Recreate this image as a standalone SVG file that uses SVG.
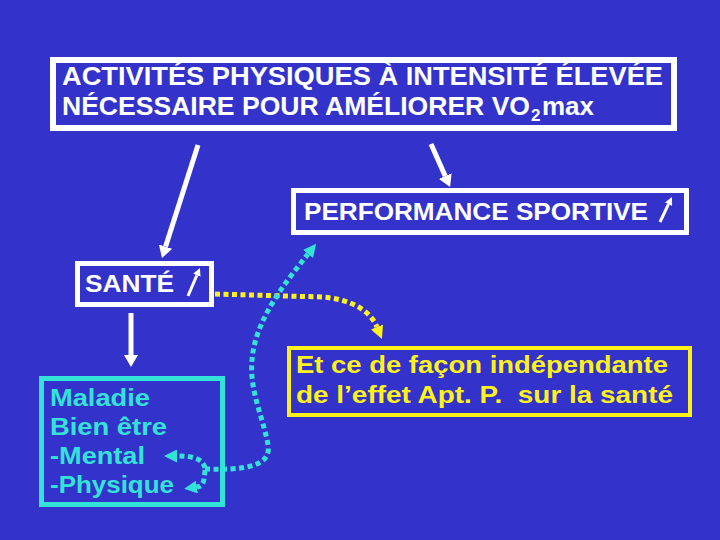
<svg xmlns="http://www.w3.org/2000/svg" width="720" height="540" viewBox="0 0 720 540">
<style>
.t{font-family:"Liberation Sans",Arial,sans-serif;font-weight:bold}
.w{fill:#FFFFFF}
.c{fill:#33E3D8}
.y{fill:#FFF21A}
.box{fill:none}
.wl{stroke:#FFFFFF;fill:none;stroke-linecap:butt}
.dc{stroke:#33E3D8;fill:none;stroke-width:5;stroke-dasharray:5 3.5}
.dy{stroke:#FFF21A;fill:none;stroke-width:5;stroke-dasharray:5 3.5}
</style>
<defs>
<marker id="hw" markerUnits="userSpaceOnUse" markerWidth="12" markerHeight="14" viewBox="0 0 12 14" refX="0" refY="7" orient="auto"><path d="M0,0 L12,7 L0,14 z" fill="#FFFFFF"/></marker>
<marker id="hs" markerUnits="userSpaceOnUse" markerWidth="8" markerHeight="8" viewBox="0 0 8 8" refX="0" refY="4" orient="auto"><path d="M0,0 L8,4 L0,8 z" fill="#FFFFFF"/></marker>
<marker id="hc" markerUnits="userSpaceOnUse" markerWidth="13" markerHeight="13" viewBox="0 0 13 13" refX="0" refY="6.5" orient="auto"><path d="M0,0 L13,6.5 L0,13 z" fill="#33E3D8"/></marker>
<marker id="hy" markerUnits="userSpaceOnUse" markerWidth="13" markerHeight="13" viewBox="0 0 13 13" refX="0" refY="6.5" orient="auto"><path d="M0,0 L13,6.5 L0,13 z" fill="#FFF21A"/></marker>
</defs>
<rect x="0" y="0" width="720" height="540" fill="#3333CC"/>

<g id="top">
<rect class="box" x="53" y="60" width="621" height="68" stroke="#FFFFFF" stroke-width="6"/>
<text class="t w" x="62" y="85" font-size="26" textLength="601" lengthAdjust="spacingAndGlyphs">ACTIVITÉS PHYSIQUES À INTENSITÉ ÉLEVÉE</text>
<text class="t w" x="62" y="115" font-size="26" textLength="468" lengthAdjust="spacingAndGlyphs">NÉCESSAIRE POUR AMÉLIORER VO</text>
<text class="t w" x="531" y="121" font-size="17">2</text>
<text class="t w" x="542" y="115" font-size="26" textLength="52" lengthAdjust="spacingAndGlyphs">max</text>
</g>

<g id="performance">
<rect class="box" x="293.5" y="190.5" width="393" height="42" stroke="#FFFFFF" stroke-width="5"/>
<text class="t w" x="304" y="220" font-size="24" textLength="344" lengthAdjust="spacingAndGlyphs">PERFORMANCE SPORTIVE</text>
<line class="wl" x1="660" y1="222" x2="668.5" y2="204.2" stroke-width="3" marker-end="url(#hs)"/>
</g>

<g id="sante">
<rect class="box" x="77.5" y="263.5" width="134" height="41" stroke="#FFFFFF" stroke-width="5"/>
<text class="t w" x="85" y="292" font-size="24" textLength="89" lengthAdjust="spacingAndGlyphs">SANTÉ</text>
<line class="wl" x1="188" y1="296" x2="196.8" y2="275.3" stroke-width="3" marker-end="url(#hs)"/>
</g>

<g id="maladie">
<rect class="box" x="41.5" y="378.5" width="181" height="126" stroke="#33E3D8" stroke-width="5"/>
<text class="t c" x="50" y="406" font-size="24" textLength="100" lengthAdjust="spacingAndGlyphs">Maladie</text>
<text class="t c" x="50" y="435" font-size="24" textLength="117" lengthAdjust="spacingAndGlyphs">Bien être</text>
<text class="t c" x="50" y="464" font-size="24" textLength="95" lengthAdjust="spacingAndGlyphs">-Mental</text>
<text class="t c" x="50" y="493" font-size="24" textLength="124" lengthAdjust="spacingAndGlyphs">-Physique</text>
</g>

<g id="independance">
<rect class="box" x="289" y="348" width="401" height="67" stroke="#FFF21A" stroke-width="4"/>
<text class="t y" x="296" y="373" font-size="24" textLength="372" lengthAdjust="spacingAndGlyphs">Et ce de façon indépendante</text>
<text class="t y" x="296" y="403" font-size="24" textLength="377" lengthAdjust="spacingAndGlyphs" xml:space="preserve" style="white-space:pre">de l’effet Apt. P.  sur la santé</text>
</g>

<g id="connectors">
<line class="wl" x1="198" y1="145" x2="165.6" y2="246.6" stroke-width="5" marker-end="url(#hw)"/>
<line class="wl" x1="431" y1="144" x2="445.2" y2="176" stroke-width="5" marker-end="url(#hw)"/>
<line class="wl" x1="131" y1="313" x2="131" y2="355" stroke-width="5" marker-end="url(#hw)"/>
<path class="dy" d="M215,294 L322,297 C350,299 370,310 377,327" marker-end="url(#hy)"/>
<path class="dc" d="M205,469 C240,470 272,468 268,445 C264,420 249,390 252,360 C255,320 285,283 308,254" marker-end="url(#hc)"/>
<path class="dc" d="M205,468 C203,460 196,456 177,456" marker-end="url(#hc)"/>
<path class="dc" d="M205,470 C204,481 204,486 197,487" marker-end="url(#hc)"/>
</g>
</svg>
